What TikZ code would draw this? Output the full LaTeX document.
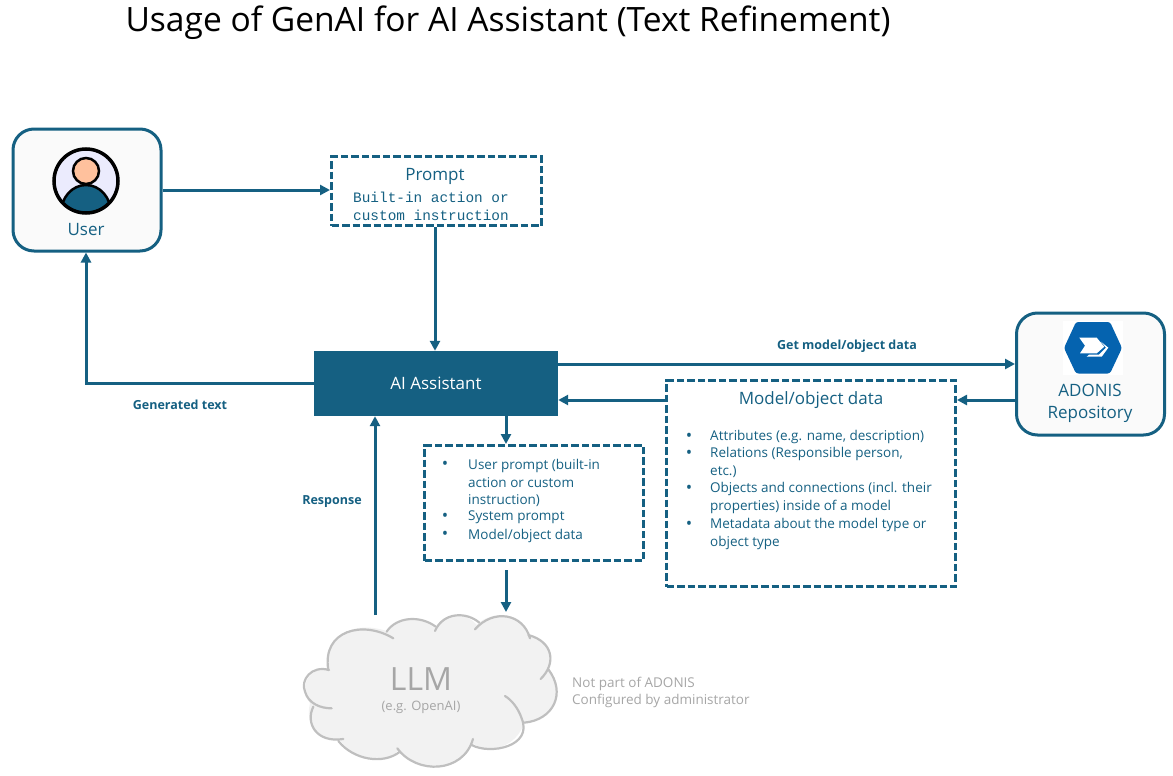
\documentclass[tikz,border=0pt]{standalone}
\usepackage{fontspec}
\setmainfont{Open Sans}
\newfontfamily\monof{Liberation Mono}
\usetikzlibrary{arrows.meta,calc}
\definecolor{teal}{HTML}{156082}
\definecolor{hexblue}{HTML}{0563AF}
\definecolor{soft}{HTML}{A6A6A6}
\definecolor{cloudline}{HTML}{BFBFBF}
\definecolor{cloudfill}{HTML}{F2F2F2}
\newcommand{\fs}[2]{\fontsize{#1}{#2}\selectfont}
\tikzset{
  card/.style={draw=teal,line width=3pt,rounded corners=21pt,fill=black!2,inner sep=0pt,minimum width=148pt,minimum height=122pt},
  dashbox/.style={draw=teal,line width=3pt,dash pattern=on 7.5pt off 3pt,inner sep=0pt},
  conn/.style={draw=teal,line width=3pt,-{Triangle[length=10pt,width=10pt]}},
  lbl/.style={text=teal,inner sep=0pt},
  boldlbl/.style={text=teal,inner sep=0pt,font=\bfseries\fs{12.5}{15}},
  item/.style={text=teal,inner sep=0pt,anchor=north west,align=left,font=\fs{13.5}{17.6}},
  bul/.style={text=teal,inner sep=0pt,anchor=center,font=\fs{17}{17.6}},
  lobe/.style={draw=cloudline,line width=2.2pt,line cap=round},
}
\begin{document}
\begin{tikzpicture}[x=1pt,y=-1pt]
\useasboundingbox (0,0) rectangle (1173,776);
\node[text=black,inner sep=0pt,anchor=center,font=\fs{33.55}{40}] (title) at (508,22.5) {Usage of GenAI for AI Assistant (Text Refinement)};

% boxes
\node[card] (user) at (87,190) {};
\node[card] (repo) at (1090.5,374) {};
\node[dashbox,minimum width=210pt,minimum height=69pt] (prompt) at (436.5,191) {};
\node[fill=teal,inner sep=0pt,minimum width=244pt,minimum height=65pt,text=white,font=\fs{17}{20}] (ai) at (436,383.5) {AI Assistant};
\node[dashbox,minimum width=219pt,minimum height=115pt] (inputs) at (534,503) {};
\node[dashbox,minimum width=289pt,minimum height=206pt] (model) at (811,483.5) {};

% user icon
\begin{scope}
  \clip (86,181) circle (31);
  \fill[fill=black!8!blue!8!white] (86,181) circle (31);
  \draw[fill=teal,line width=2.5pt] (86,213) ellipse (25 and 28);
  \draw[fill=orange!40!pink!70!white,line width=2.5pt] (86,171) ellipse (13 and 13);
\end{scope}
\draw[line width=3.5pt] (86,181) circle (32);
\node[lbl,font=\fs{17}{20}] (userlabel) at (86,230) {User};

% repository icon
\fill[white] (1063,321) rectangle (1123,375);
\fill[hexblue,rounded corners=2.5pt] (1064,348) -- (1076,322) -- (1110,322) -- (1122,348) -- (1110,373.5) -- (1076,373.5) -- cycle;
\fill[white] (1079.3,337.7) -- (1096.7,337.7) -- (1104.3,346.7) -- (1096.7,353.3) -- (1080,353.3) -- (1085,345.7) -- cycle;
\fill[white] (1101,341.7) -- (1108.3,347.7) -- (1101.7,356.7) -- (1086.7,356.7) -- (1089,354.7) -- (1099,354.7) -- (1106,347.7) -- cycle;
\node[lbl,font=\fs{17}{20}] (adonis) at (1090,390.5) {ADONIS};
\node[lbl,font=\fs{17}{20}] (repository) at (1090,414) {Repository};

% prompt text
\node[lbl,font=\fs{17}{20}] (prompttitle) at (435,176.5) {Prompt};
\node[lbl,anchor=west,font=\monof\fs{14.4}{18}] (promptline1) at (353,197.5) {Built-in action or};
\node[lbl,anchor=west,font=\monof\fs{14.4}{18}] (promptline2) at (353,215.5) {custom instruction};

% model text
\node[lbl,font=\fs{17}{20}] (modeltitle) at (811,400) {Model/object data};
\node[bul] (mb1) at (689,437) {•};
\node[bul] (mb2) at (689,454) {•};
\node[bul] (mb3) at (689,489) {•};
\node[bul] (mb4) at (689,525) {•};
\node[item] (mi1) at (710,430.5) {Attributes (e.g. name, description)};
\node[item] (mi2) at (710,447.5) {Relations (Responsible person,\\etc.)};
\node[item] (mi3) at (710,482.5) {Objects and connections (incl. their\\properties) inside of a model};
\node[item] (mi4) at (710,518.5) {Metadata about the model type or\\object type};

% inputs text
\node[bul] (ib1) at (445,465) {•};
\node[bul] (ib2) at (445,517) {•};
\node[bul] (ib3) at (445,535) {•};
\node[item] (ii1) at (468,459) {User prompt (built-in\\action or custom\\instruction)};
\node[item] (ii2) at (468,511) {System prompt};
\node[item] (ii3) at (468,529) {Model/object data};

% cloud
\begin{scope}[shift={(290,560)},x=0.3333pt,y=-0.3333pt]
  \fill[cloudfill] (115,325) .. controls (60,325) and (25,370) .. (60,430)
    .. controls (45,490) and (80,545) .. (150,540)
    .. controls (190,600) and (280,615) .. (325,572)
    .. controls (380,640) and (510,640) .. (548,550)
    .. controls (600,585) and (680,560) .. (703,488)
    .. controls (790,480) and (830,400) .. (775,325)
    .. controls (800,280) and (770,240) .. (718,228)
    .. controls (700,160) and (610,145) .. (560,195)
    .. controls (530,155) and (460,155) .. (435,205)
    .. controls (390,165) and (320,170) .. (295,215)
    .. controls (200,180) and (100,220) .. (115,325) -- cycle;
  \draw[lobe] (117,330) .. controls (65,315) and (30,360) .. (45,395) .. controls (55,430) and (90,445) .. (125,445);
  \draw[lobe] (70,440) .. controls (45,490) and (80,550) .. (160,537);
  \draw[lobe] (145,543) .. controls (190,600) and (280,615) .. (330,575);
  \draw[lobe] (322,565) .. controls (380,645) and (520,640) .. (549,537);
  \draw[lobe] (545,555) .. controls (600,585) and (730,560) .. (695,475) .. controls (685,445) and (665,420) .. (645,408);
  \draw[lobe] (703,488) .. controls (790,480) and (830,400) .. (775,328);
  \draw[lobe] (752,357) .. controls (800,310) and (790,245) .. (715,225);
  \draw[lobe] (720,235) .. controls (700,160) and (610,145) .. (555,208);
  \draw[lobe] (568,188) .. controls (530,155) and (460,155) .. (435,213);
  \draw[lobe] (437,200) .. controls (390,165) and (320,170) .. (290,215);
  \draw[lobe] (310,235) .. controls (220,180) and (95,210) .. (115,330);
\end{scope}
\node[text=soft,inner sep=0pt,font=\fs{32}{36}] (llm) at (421,679) {LLM};
\node[text=soft,inner sep=0pt,font=\fs{13}{16}] (openai) at (421,707.5) {(e.g. OpenAI)};
\node[text=soft,inner sep=0pt,anchor=west,align=left,font=\fs{13.5}{17}] (note) at (572,692.5) {Not part of ADONIS\\Configured by administrator};

% connectors
\coordinate (inend) at (506,570);
\coordinate (cloudtop) at (506,612);
\coordinate (cloudstart) at (375,615);
\draw[conn] (user.east |- 0,190) -- (prompt.west |- 0,190);
\draw[conn] (prompt.south -| 435,0) -- (ai.north -| 435,0);
\draw[conn] (ai.west) -- (86,383.5) -- (user.south -| 86,0);
\draw[conn] (ai.east |- 0,364) -- (repo.west |- 0,364);
\draw[conn] (repo.west |- 0,400) -- (model.east |- 0,400);
\draw[conn] (model.west |- 0,400) -- (ai.east |- 0,400);
\draw[conn] (ai.south -| 506,0) -- (inputs.north -| 506,0);
\draw[conn] (inend) -- (cloudtop);
\draw[conn] (cloudstart) -- (ai.south -| 375,0);

% connector labels
\node[boldlbl] (gen) at (180,405) {Generated text};
\node[boldlbl] (get) at (847,346.5) {Get model/object data};
\node[boldlbl] (resp) at (332,502) {Response};
\end{tikzpicture}
\end{document}
